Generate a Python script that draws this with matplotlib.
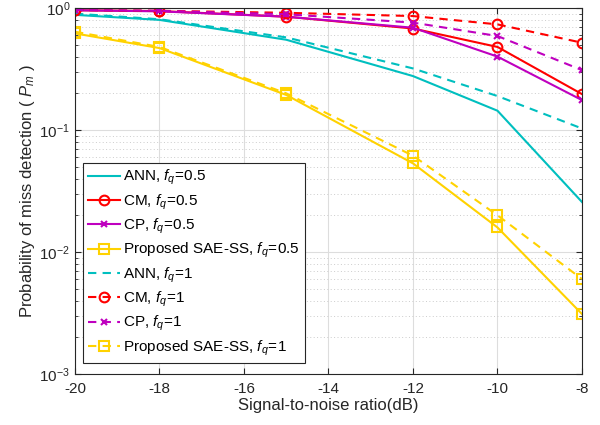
import matplotlib
matplotlib.use("Agg")
import matplotlib.pyplot as plt
from matplotlib.ticker import LogLocator, NullFormatter

plt.rcParams['font.family'] = ['Liberation Sans', 'DejaVu Sans']
plt.rcParams['mathtext.fontset'] = 'custom'
plt.rcParams['mathtext.rm'] = 'Liberation Sans'
plt.rcParams['mathtext.it'] = 'Liberation Sans:italic'
plt.rcParams['mathtext.bf'] = 'Liberation Sans:bold'
plt.rcParams['axes.unicode_minus'] = False

snr = [-20, -18, -15, -12, -10, -8]

ann_05 = [0.88, 0.80, 0.55, 0.277, 0.144, 0.0257]
cm_05 = [0.96, 0.945, 0.85, 0.68, 0.48, 0.197]
cp_05 = [0.96, 0.94, 0.85, 0.69, 0.40, 0.176]
sae_05 = [0.62, 0.47, 0.194, 0.0533, 0.0159, 0.0031]

ann_1 = [0.90, 0.81, 0.575, 0.32, 0.19, 0.103]
cm_1 = [0.965, 0.95, 0.915, 0.86, 0.735, 0.52]
cp_1 = [0.965, 0.95, 0.89, 0.76, 0.59, 0.31]
sae_1 = [0.64, 0.48, 0.20, 0.0616, 0.020, 0.0060]

fq = r'$f_q\!\mathit{=}\!\mathit{%s}$'
labels = ['ANN, ' + fq % '0.5', 'CM, ' + fq % '0.5', 'CP, ' + fq % '0.5',
          'Proposed SAE-SS, ' + fq % '0.5',
          'ANN, ' + fq % '1', 'CM, ' + fq % '1', 'CP, ' + fq % '1',
          'Proposed SAE-SS, ' + fq % '1']

c_ann = '#00BFBF'
c_cm = '#FF0000'
c_cp = '#BF00BF'
c_sae = '#FFD200'

fig = plt.figure(figsize=(6, 4.25), dpi=100)
ax = fig.add_axes([0.125, 0.12, 0.845, 0.861])

lw = 1.5
ms = 7
dash = (4, 3)
ax.plot(snr, ann_05, '-', color=c_ann, lw=lw, label=labels[0])
ax.plot(snr, cm_05, '-', color=c_cm, lw=lw, marker='o', ms=ms, mfc='none', mew=1.5, label=labels[1])
ax.plot(snr, cp_05, '-', color=c_cp, lw=lw, marker='x', ms=5, mew=1.5, label=labels[2])
ax.plot(snr, sae_05, '-', color=c_sae, lw=lw, marker='s', ms=ms, mfc='none', mew=1.5, label=labels[3])
ax.plot(snr, ann_1, '--', color=c_ann, lw=lw, label=labels[4], dashes=dash)
ax.plot(snr, cm_1, '--', color=c_cm, lw=lw, marker='o', ms=ms, mfc='none', mew=1.5, label=labels[5], dashes=dash)
ax.plot(snr, cp_1, '--', color=c_cp, lw=lw, marker='x', ms=5, mew=1.5, label=labels[6], dashes=dash)
ax.plot(snr, sae_1, '--', color=c_sae, lw=lw, marker='s', ms=ms, mfc='none', mew=1.5, label=labels[7], dashes=dash)

ax.set_yscale('log')
ax.set_xlim(-20, -8)
ax.set_ylim(1e-3, 1)
ax.set_xticks(range(-20, -7, 2))
ax.yaxis.set_major_locator(LogLocator(base=10, numticks=10))
ax.yaxis.set_minor_locator(LogLocator(base=10, subs=range(2, 10), numticks=100))
ax.yaxis.set_minor_formatter(NullFormatter())

ax.grid(True, which='major', color='#DDDDDD', lw=0.8, ls='-')
ax.grid(True, which='minor', axis='y', color='#CCCCCC', lw=0.7, ls=(0, (1, 2.5)))
ax.set_axisbelow(True)

ax.tick_params(which='both', direction='in', top=True, right=True, labelsize=11, colors='#262626')
ax.tick_params(which='major', length=4)
ax.tick_params(which='minor', length=2)
ax.tick_params(axis='x', pad=6)
for s in ax.spines.values():
    s.set_color('#262626')
    s.set_linewidth(0.8)

ax.set_xlabel('Signal-to-noise ratio(dB)', fontsize=12, color='#262626', labelpad=1)
ax.set_ylabel(r'Probability of miss detection ( $P_m$ )', fontsize=12, color='#262626', labelpad=2)

leg = ax.legend(loc='lower left', bbox_to_anchor=(0.015, 0.03), fontsize=11, frameon=True,
                fancybox=False, edgecolor='#262626', framealpha=1, handlelength=2.1,
                labelspacing=0.33, borderpad=0.35, handletextpad=0.2, borderaxespad=0)
leg.get_frame().set_linewidth(0.8)

fig.savefig('out.png', dpi=100)
